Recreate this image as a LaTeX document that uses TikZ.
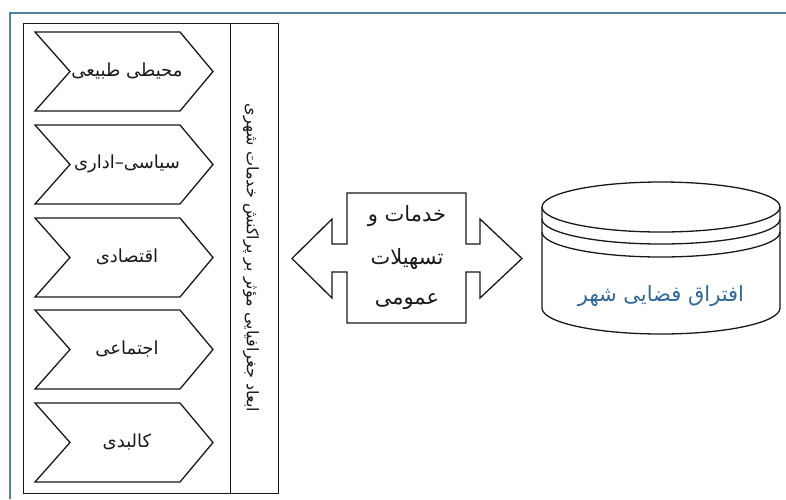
\documentclass[tikz,border=0pt]{standalone}
\usepackage{fontspec}
\setmainfont{DejaVu Sans}
\newfontfamily\arabicfont[Script=Arabic]{DejaVu Sans}
\TeXXeTstate=1
\definecolor{framecol}{RGB}{80,130,158}
\definecolor{textblue}{RGB}{50,105,150}
\definecolor{inkcol}{RGB}{25,25,25}
\tikzset{
  shapeline/.style={draw=inkcol, line width=1.3pt, line join=miter, fill=white},
  chevtext/.style={font=\arabicfont\fontsize{18}{21}\selectfont, text=inkcol, inner sep=0pt},
  midtext/.style={font=\arabicfont\fontsize{21}{24}\selectfont, text=inkcol, inner sep=0pt},
}
\begin{document}
\begin{tikzpicture}[x=1pt,y=-1pt]
\useasboundingbox (0,0) rectangle (786,499);
% outer frame
\draw[framecol, line width=2.5pt] (786,13) -- (10,13) -- (10,499);
% inner box with divider
\draw[inkcol, line width=1pt] (23,23) rectangle (278,493);
\draw[inkcol, line width=1pt] (230,23) -- (230,493);
% chevrons
\foreach \t/\n in {32/c1,125/c2,218/c3,310/c4,403/c5}{
  \draw[shapeline] (35,\t) -- (180,\t) -- (213,\t+39.5) -- (180,\t+79) -- (35,\t+79) -- (70,\t+39.5) -- cycle;
}
\node[chevtext] (t1) at (127,71) {\beginR محیطی طبیعی\endR};
\node[chevtext] (t2) at (127,164) {\beginR سیاسی–اداری\endR};
\node[chevtext] (t3) at (127,257) {\beginR اقتصادی\endR};
\node[chevtext] (t4) at (127,349) {\beginR اجتماعی\endR};
\node[chevtext] (t5) at (127,442) {\beginR کالبدی\endR};
% vertical title
\node[font=\arabicfont\fontsize{16}{19}\selectfont, text=inkcol, rotate=-90, inner sep=0pt] (vt) at (251,258) {\beginR ابعاد جغرافیایی مؤثر بر پراکنش خدمات شهری\endR};
% double arrow box
\draw[shapeline] (292,258.5) -- (332,219) -- (332,244) -- (347,244) -- (347,193) -- (466,193) -- (466,244) -- (480,244) -- (480,219) -- (522,258.5) -- (480,298) -- (480,272) -- (466,272) -- (466,323) -- (347,323) -- (347,272) -- (332,272) -- (332,298) -- cycle;
\node[midtext] (m1) at (407,216) {\beginR خدمات و\endR};
\node[midtext] (m2) at (407,259) {\beginR تسهیلات\endR};
\node[midtext] (m3) at (407,302) {\beginR عمومی\endR};
% cylinder
\fill[white] (542,207) -- (542,308) arc[start angle=180, end angle=0, x radius=119, y radius=26] -- (780,207) -- cycle;
\draw[inkcol, line width=1.3pt] (542,207) -- (542,308) arc[start angle=180, end angle=0, x radius=119, y radius=26] -- (780,207);
\draw[inkcol, line width=1.3pt, fill=white] (661,207) ellipse[x radius=119, y radius=25];
\draw[inkcol, line width=1.3pt] (542,219) arc[start angle=180, end angle=0, x radius=119, y radius=25];
\draw[inkcol, line width=1.3pt] (542,232) arc[start angle=180, end angle=0, x radius=119, y radius=25];
\node[font=\arabicfont\fontsize{21}{25}\selectfont, text=textblue, inner sep=0pt] (cyl) at (661,296) {\beginR افتراق فضایی شهر\endR};
\end{tikzpicture}
\end{document}
